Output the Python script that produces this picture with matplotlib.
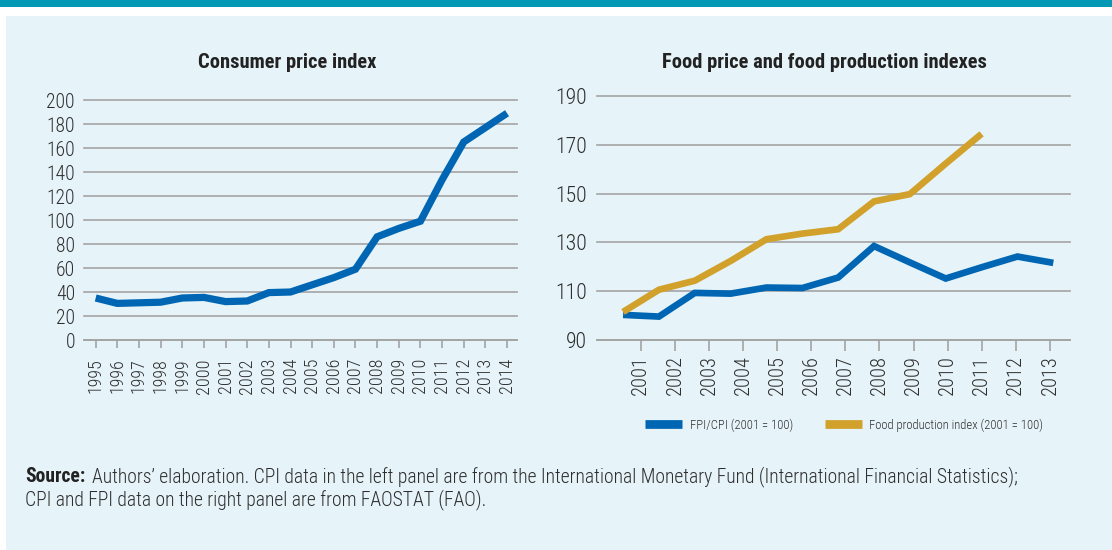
import numpy as np
import matplotlib
matplotlib.use("Agg")
import matplotlib.pyplot as plt
from matplotlib import font_manager as fm
from matplotlib.patches import Rectangle
from matplotlib.lines import Line2D

# ---------------- data ----------------
cpi_years = [str(y) for y in range(1995, 2015)]
cpi_values = [35, 30.5, 31, 31.5, 35, 35.5, 32, 32.5, 39.5, 40, 46, 52, 59, 86,
              93, 99, 133.5, 165, 177, 189]

food_years = [str(y) for y in range(2001, 2014)]
fpi_cpi = [100.3, 99.6, 109.3, 109.0, 111.5, 111.3, 115.6, 128.5, 121.8, 115.2,
           119.8, 124.2, 121.6]
food_prod = [101.5, 110.6, 114.3, 122.4, 131.3, 133.6, 135.4, 146.8, 149.8, 162.3,
             174.5]

cpi_yticks = list(range(0, 201, 20))
food_yticks = list(range(90, 191, 20))

title_left = "Consumer price index"
title_right = "Food price and food production indexes"
legend_labels = ["FPI/CPI (2001 = 100)", "Food production index (2001 = 100)"]
source_bold = "Source:"
source_rest1 = "Authors\u2019 elaboration. CPI data in the left panel are from the International Monetary Fund (International Financial Statistics);"
source_rest2 = "CPI and FPI data on the right panel are from FAOSTAT (FAO)."

# ---------------- font selection ----------------
available = {f.name for f in fm.fontManager.ttflist}
light_ok = {f.name for f in fm.fontManager.ttflist if f.weight in (300, 'light')}
FAM = 'DejaVu Sans'
STRETCH = 'condensed'
for cand in ['Roboto Condensed', 'Archivo Narrow', 'Liberation Sans Narrow',
             'Fira Sans Condensed', 'IBM Plex Sans Condensed']:
    if cand in available:
        FAM = cand
        STRETCH = 'normal'
        break
LW = 'light' if FAM in light_ok else 'normal'
plt.rcParams['font.family'] = [FAM, 'DejaVu Sans']
plt.rcParams['font.stretch'] = STRETCH
plt.rcParams['font.weight'] = LW

BLUE = '#0066b3'
GOLD = '#d1a12c'
GRID = '#a3a3a3'
TEXT = '#2e2e2e'
BG = '#e6f4f9'

W, H = 1112, 550
fig = plt.figure(figsize=(W / 100, H / 100), dpi=100)
fig.patch.set_facecolor('white')
renderer = fig.canvas.get_renderer()


def fit_size(text, target_px, weight=LW):
    t = fig.text(0, 0, text, fontsize=10, fontweight=weight)
    w = t.get_window_extent(renderer).width
    t.remove()
    return 10 * target_px / w


def fx(px):
    return px / W


def fy(py):
    return 1 - py / H


# background
fig.add_artist(Rectangle((0, fy(6.5)), 1, 6.5 / H, transform=fig.transFigure,
                         facecolor='#0399b4', edgecolor='none', zorder=0))
fig.add_artist(Rectangle((fx(6), 0), 1 - fx(6), fy(16), transform=fig.transFigure,
                         facecolor=BG, edgecolor='none', zorder=0))


def style_axes(ax):
    ax.set_facecolor('none')
    for s in ['top', 'right', 'left']:
        ax.spines[s].set_visible(False)
    ax.spines['bottom'].set_color(GRID)
    ax.spines['bottom'].set_linewidth(1.2)
    ax.grid(axis='y', color=GRID, linewidth=1.2)
    ax.set_axisbelow(True)
    ax.tick_params(axis='y', length=0, colors=TEXT)
    ax.tick_params(axis='x', colors=GRID, labelcolor=TEXT, direction='out')


# ---------------- left panel ----------------
axL = fig.add_axes([fx(84), fy(340), fx(517 - 84), (340 - 100) / H])
style_axes(axL)
xL = np.arange(len(cpi_years))
axL.plot(xL, cpi_values, color=BLUE, linewidth=5.2, solid_capstyle='butt',
         solid_joinstyle='miter', zorder=3)
axL.set_xlim(-0.54, len(cpi_years) - 0.54)
axL.set_ylim(0, 200)
axL.set_yticks(cpi_yticks)
axL.set_yticklabels([str(v) for v in cpi_yticks], fontsize=fit_size("200", 29))
axL.tick_params(axis='y', pad=6.5)
axL.set_xticks(xL)
axL.set_xticklabels(cpi_years, rotation=90, fontsize=fit_size("1995", 35))
axL.tick_params(axis='x', length=6, width=1.2, pad=7)
for t in axL.get_ygridlines():
    t.set_clip_on(False)
fig.text(fx(287.5), fy(63), title_left, ha='center', va='center',
         fontsize=fit_size(title_left, 179, 'bold'), fontweight='bold', color='#222222')

# ---------------- right panel ----------------
axR = fig.add_axes([fx(597), fy(340), fx(1070 - 597), (340 - 96) / H])
style_axes(axR)
tick_pos = np.arange(len(food_years))
n = len(food_years)
data_x = np.linspace(-0.52, 12.1, n)
axR.plot(data_x, fpi_cpi, color=BLUE, linewidth=4.8, solid_capstyle='butt',
         solid_joinstyle='miter', zorder=3)
axR.plot(data_x[:len(food_prod)], food_prod, color=GOLD, linewidth=4.8,
         solid_capstyle='butt', solid_joinstyle='miter', zorder=3)
axR.set_xlim(-1.285, 12.59)
axR.set_ylim(90, 190)
axR.set_yticks(food_yticks)
axR.set_yticklabels([str(v) for v in food_yticks], fontsize=fit_size("190", 32))
axR.tick_params(axis='y', pad=7)
axR.set_xticks(tick_pos)
axR.set_xticklabels(food_years, rotation=90, fontsize=fit_size("2001", 40))
axR.tick_params(axis='x', length=8, width=1.2, pad=3)
for t in axR.get_ygridlines():
    t.set_clip_on(False)
fig.text(fx(824.5), fy(63), title_right, ha='center', va='center',
         fontsize=fit_size(title_right, 325, 'bold'), fontweight='bold', color='#222222')

# legend
leg_size = fit_size(legend_labels[1], 175)
handles = [Line2D([0], [0], color=BLUE, linewidth=6.3, solid_capstyle='butt'),
           Line2D([0], [0], color=GOLD, linewidth=6.3, solid_capstyle='butt')]
leg = fig.legend(handles, legend_labels, loc='center left',
                 bbox_to_anchor=(fx(645), fy(425)),
                 ncol=2, frameon=False, fontsize=leg_size, handlelength=37 / leg_size * 72 / 100,
                 handletextpad=0.6, columnspacing=(822 - 790) / leg_size * 72 / 100,
                 labelcolor=TEXT, borderpad=0, borderaxespad=0)

# source text
src_size = fit_size(source_rest2, 462)
t1 = fig.text(fx(25), fy(477), source_bold, ha='left', va='center', fontsize=src_size,
              fontweight='bold', color='#222222')
fig.canvas.draw()
bb = t1.get_window_extent(renderer)
fig.text((bb.x1 + 7) / W, fy(477), source_rest1, ha='left', va='center', fontsize=src_size,
         color=TEXT)
fig.text(fx(25), fy(500), source_rest2, ha='left', va='center', fontsize=src_size,
         color=TEXT)

fig.savefig('out.png', dpi=100, facecolor=fig.get_facecolor())
